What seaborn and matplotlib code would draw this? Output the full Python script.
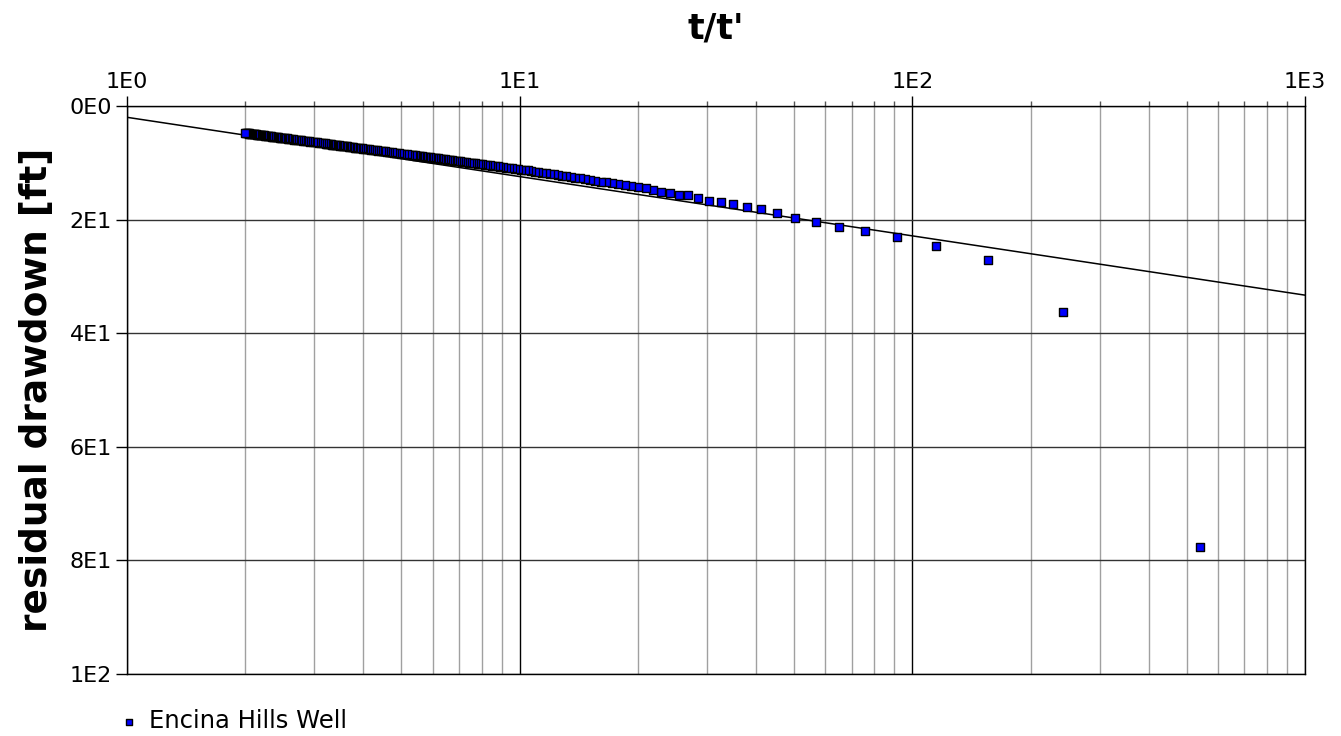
import numpy as np
import pandas as pd
import seaborn as sns
import matplotlib.pyplot as plt
from matplotlib.ticker import LogLocator, NullFormatter

# recovery data (t/t' descending = chronological order)
t_ratio = [
    540, 241.7, 155.9, 115.2, 91.45, 75.87, 64.87, 56.69, 50.36, 45.33,
    41.23, 37.82, 34.95, 32.49, 30.36, 28.50, 26.87, 25.41, 24.12, 22.95,
    21.89, 20.94, 20.06, 19.26, 18.52, 17.85, 17.22, 16.63, 16.09, 15.58,
    15.11, 14.67, 14.25, 13.86, 13.49, 13.14, 12.81, 12.50, 12.20, 11.92,
    11.65, 11.40, 11.16, 10.92, 10.70, 10.49, 10.29, 10.09, 9.91, 9.73,
    9.56, 9.39, 9.23, 9.08, 8.93, 8.79, 8.65, 8.52, 8.39, 8.27,
    8.15, 8.03, 7.92, 7.81, 7.71, 7.61, 7.51, 7.41, 7.32, 7.23,
    7.14, 7.05, 6.97, 6.89, 6.81, 6.73, 6.66, 6.59, 6.52, 6.45,
    6.38, 6.31, 6.25, 6.19, 6.13, 6.07, 6.01, 5.95, 5.90, 5.84,
    5.79, 5.74, 5.68, 5.63, 5.59, 5.54, 5.49, 5.44, 5.40, 5.36,
    5.31, 5.23, 5.15, 5.07, 5.00, 4.92, 4.85, 4.79, 4.72, 4.66,
    4.60, 4.54, 4.48, 4.43, 4.37, 4.32, 4.27, 4.22, 4.18, 4.13,
    4.09, 4.04, 4.00, 3.96, 3.92, 3.88, 3.84, 3.81, 3.77, 3.74,
    3.70, 3.67, 3.64, 3.61, 3.58, 3.55, 3.52, 3.49, 3.46, 3.43,
    3.40, 3.38, 3.35, 3.33, 3.30, 3.28, 3.25, 3.23, 3.21, 3.19,
    3.16, 3.12, 3.08, 3.04, 3.01, 2.97, 2.93, 2.90, 2.87, 2.84,
    2.81, 2.78, 2.75, 2.72, 2.69, 2.67, 2.64, 2.62, 2.59, 2.57,
    2.55, 2.53, 2.51, 2.48, 2.46, 2.45, 2.43, 2.41, 2.39, 2.37,
    2.36, 2.34, 2.32, 2.31, 2.29, 2.28, 2.26, 2.25, 2.23, 2.22,
    2.20, 2.19, 2.18, 2.17, 2.15, 2.14, 2.13, 2.12, 2.11, 2.10,
    2.08, 2.07, 2.06, 2.05, 2.04, 2.03, 2.02, 2.01, 2.00,
]
drawdown = [
    77.6, 36.3, 27.2, 24.6, 23.1, 22.0, 21.3, 20.5, 19.7, 18.8,
    18.2, 17.7, 17.25, 16.85, 16.7, 16.25, 15.75, 15.65, 15.35, 15.15,
    14.85, 14.5, 14.25, 14.0, 13.9, 13.75, 13.55, 13.45, 13.3, 13.15,
    13.0, 12.9, 12.75, 12.65, 12.5, 12.4, 12.3, 12.15, 12.05, 11.95,
    11.85, 11.75, 11.65, 11.55, 11.45, 11.35, 11.3, 11.2, 11.11, 11.04,
    10.97, 10.90, 10.83, 10.76, 10.70, 10.63, 10.57, 10.51, 10.45, 10.39,
    10.33, 10.28, 10.22, 10.17, 10.11, 10.06, 10.01, 9.96, 9.91, 9.86,
    9.81, 9.76, 9.71, 9.66, 9.62, 9.57, 9.53, 9.49, 9.44, 9.40,
    9.36, 9.32, 9.28, 9.24, 9.20, 9.16, 9.12, 9.08, 9.05, 9.01,
    8.97, 8.94, 8.90, 8.86, 8.83, 8.80, 8.76, 8.73, 8.70, 8.67,
    8.63, 8.57, 8.51, 8.45, 8.39, 8.33, 8.27, 8.22, 8.16, 8.11,
    8.06, 8.01, 7.95, 7.91, 7.86, 7.81, 7.76, 7.72, 7.68, 7.63,
    7.59, 7.54, 7.50, 7.46, 7.42, 7.38, 7.34, 7.31, 7.27, 7.24,
    7.19, 7.16, 7.13, 7.10, 7.06, 7.03, 7.00, 6.96, 6.93, 6.89,
    6.86, 6.84, 6.80, 6.78, 6.74, 6.72, 6.68, 6.65, 6.63, 6.60,
    6.57, 6.52, 6.46, 6.41, 6.37, 6.32, 6.27, 6.23, 6.19, 6.14,
    6.10, 6.06, 6.01, 5.97, 5.93, 5.90, 5.85, 5.82, 5.78, 5.75,
    5.71, 5.68, 5.65, 5.60, 5.57, 5.56, 5.52, 5.49, 5.46, 5.42,
    5.41, 5.37, 5.34, 5.32, 5.29, 5.27, 5.24, 5.22, 5.18, 5.17,
    5.13, 5.11, 5.09, 5.08, 5.04, 5.02, 5.00, 4.98, 4.96, 4.94,
    4.91, 4.89, 4.87, 4.85, 4.83, 4.81, 4.79, 4.77, 4.75,
]

# straight-line fit
fit_t = [1, 1000]
fit_s = [1.99, 33.3]

x_ticks = [1, 10, 100, 1000]
x_labels = ["1E0", "1E1", "1E2", "1E3"]
y_ticks = [0, 20, 40, 60, 80, 100]
y_labels = ["0E0", "2E1", "4E1", "6E1", "8E1", "1E2"]

sns.set_theme(style="white")
plt.rcParams['font.family'] = ['DejaVu Sans']
plt.rcParams['text.color'] = 'black'
plt.rcParams['axes.labelcolor'] = 'black'
plt.rcParams['xtick.color'] = 'black'
plt.rcParams['ytick.color'] = 'black'

df = pd.DataFrame({"t_ratio": t_ratio, "drawdown": drawdown})
df_fit = pd.DataFrame({"t": fit_t, "s": fit_s})

fig = plt.figure(figsize=(13.41, 7.36), dpi=100)
ax = fig.add_axes([127 / 1341, 1 - 674 / 736, 1178 / 1341, 568 / 736])

sns.lineplot(data=df_fit, x="t", y="s", color="black", linewidth=1.1, ax=ax, zorder=3)
sns.scatterplot(data=df, x="t_ratio", y="drawdown", marker="s", s=30, color="#0000ff",
                edgecolor="black", linewidth=1.0, ax=ax, zorder=4,
                label="Encina Hills Well")

ax.set_xscale("log")
ax.set_xlim(1, 1000)
ax.set_ylim(100, 0)

ax.set_xticks(x_ticks)
ax.set_xticklabels(x_labels)
ax.xaxis.set_minor_locator(LogLocator(base=10, subs=np.arange(2, 10)))
ax.xaxis.set_minor_formatter(NullFormatter())
ax.set_yticks(y_ticks)
ax.set_yticklabels(y_labels)

#// grid: black decades, grey minor, dark grey horizontals
ax.grid(True, which="major", axis="x", color="black", linewidth=1)
ax.grid(True, which="minor", axis="x", color="#a0a0a0", linewidth=1)
ax.grid(True, which="major", axis="y", color="#333333", linewidth=1)
ax.set_axisbelow(True)

for sp in ax.spines.values():
    sp.set_color("black")
    sp.set_linewidth(1)

ax.xaxis.tick_top()
ax.xaxis.set_label_position("top")
ax.tick_params(axis="x", which="major", length=7, width=1, color="black", direction="out",
               labelsize=16, pad=3, top=True, bottom=False)
ax.tick_params(axis="x", which="minor", length=3.5, width=1, color="#555555", direction="out",
               top=True, bottom=False)
ax.tick_params(axis="y", which="major", length=8, width=1, color="black", direction="out",
               labelsize=16, pad=3, left=True)

ax.set_xlabel("t/t'", fontsize=25, fontweight="bold")
ax.xaxis.label.set_va("center")
ax.xaxis.set_label_coords(0.5, 1 + (106 - 29) / 568)
ax.set_ylabel("residual drawdown [ft]", fontsize=27, fontweight="bold")
ax.yaxis.label.set_va("center")
ax.yaxis.set_label_coords(-(127 - 37) / 1178, 0.5)

ax.legend(loc="center left", bbox_to_anchor=(117 / 1341, 1 - 721 / 736),
          bbox_transform=fig.transFigure, frameon=False, fontsize=17.5,
          handlelength=1, handletextpad=0.3, borderpad=0, borderaxespad=0,
          markerscale=0.8)

fig.savefig("out.png", dpi=100)
